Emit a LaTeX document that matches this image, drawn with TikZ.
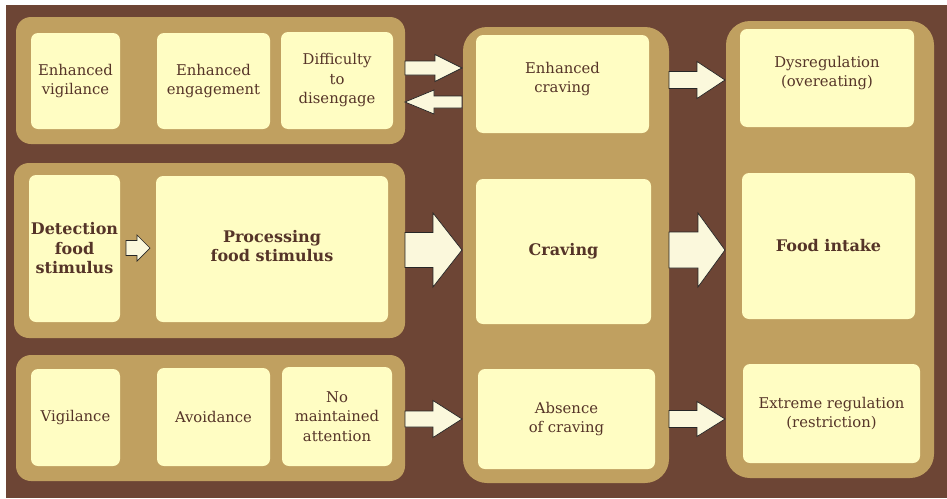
\documentclass[tikz,border=0pt]{standalone}
\usepackage{fontspec}
\setmainfont{DejaVu Serif}
\definecolor{bgbrown}{HTML}{6D4535}
\definecolor{tan}{HTML}{C0A060}
\definecolor{cream}{HTML}{FFFDC3}
\definecolor{ink}{HTML}{553428}
\definecolor{arrfill}{HTML}{FBF8DC}
\newcommand\blockarrow[6]{%
  \draw[arr] ({#1},{#3-#4}) -- ({#2-(#6)},{#3-#4}) -- ({#2-(#6)},{#3-#5}) -- ({#2},{#3})
    -- ({#2-(#6)},{#3+#5}) -- ({#2-(#6)},{#3+#4}) -- ({#1},{#3+#4}) -- cycle;}
\begin{document}
\begin{tikzpicture}[x=1pt,y=-1pt,
  panel/.style={fill=tan,draw=none},
  box/.style={fill=cream,draw=none,rounded corners=7pt,text=ink,align=center,
    font=\fontsize{14.8}{19.5}\selectfont,inner sep=0pt},
  boldbox/.style={box,font=\fontsize{16}{19.5}\selectfont\bfseries},
  arr/.style={fill=arrfill,draw=black!85,line width=0.7pt,line join=miter}]
\useasboundingbox (0,0) rectangle (947,498);
\fill[white] (0,0) rectangle (947,498);
\fill[bgbrown] (6,5) rectangle (947,498);
% panels
\fill[panel,rounded corners=15pt] (16,17) rectangle (405,144);
\fill[panel,rounded corners=15pt] (14,163) rectangle (405,338);
\fill[panel,rounded corners=15pt] (16,355) rectangle (405,481);
\fill[panel,rounded corners=24pt] (463,27) rectangle (669,483);
\fill[panel,rounded corners=24pt] (726,21) rectangle (934,478);
% boxes
\node[box,minimum width=89pt,minimum height=96pt] (ev) at (75.5,81) {Enhanced\\vigilance};
\node[box,minimum width=113pt,minimum height=96pt] (ee) at (213.5,81) {Enhanced\\engagement};
\node[box,minimum width=112pt,minimum height=97pt] (dd) at (337,80.5) {Difficulty\\to\\disengage};
\node[boldbox,minimum width=91pt,minimum height=147pt] (det) at (74.5,248.5) {Detection\\food\\stimulus};
\node[boldbox,minimum width=232pt,minimum height=146pt] (proc) at (272,249) {};
\node[boldbox,anchor=center] at (272,246) {Processing\\food stimulus};
\node[box,minimum width=89pt,minimum height=97pt] (vig) at (75.5,417.5) {Vigilance};
\node[box,minimum width=113pt,minimum height=98pt] (avo) at (213.5,417) {Avoidance};
\node[box,minimum width=110pt,minimum height=99pt] (nma) at (337,416.5) {No\\maintained\\attention};
\node[box,minimum width=173pt,minimum height=98pt] (ecr) at (562.5,84) {};
\node[box,anchor=center] at (562.5,79) {Enhanced\\craving};
\node[boldbox,minimum width=175pt,minimum height=145pt] (cra) at (563.5,251.5) {Craving};
\node[box,minimum width=177pt,minimum height=100pt] (abs) at (566.5,419) {Absence\\of craving};
\node[box,minimum width=174pt,minimum height=98pt] (dys) at (827,78) {};
\node[box,anchor=center] at (827,73) {Dysregulation\\(overeating)};
\node[boldbox,minimum width=173pt,minimum height=146pt] (fi) at (828.5,246) {Food intake};
\node[box,minimum width=177pt,minimum height=99pt] (ext) at (831.5,413.5) {Extreme regulation\\(restriction)};
% arrows
\blockarrow{405}{462}{68}{7}{13.5}{27}
\blockarrow{462}{405}{102}{6}{12}{-29}
\blockarrow{126}{150}{248}{7.5}{13}{13}
\blockarrow{405}{462}{250}{17.5}{37}{29}
\blockarrow{405}{462}{419}{8}{18.5}{29}
\blockarrow{669}{725}{80}{8.5}{18.5}{28}
\blockarrow{669}{725}{250}{18}{37}{27}
\blockarrow{669}{725}{419}{8.5}{17.5}{28}
\end{tikzpicture}
\end{document}
